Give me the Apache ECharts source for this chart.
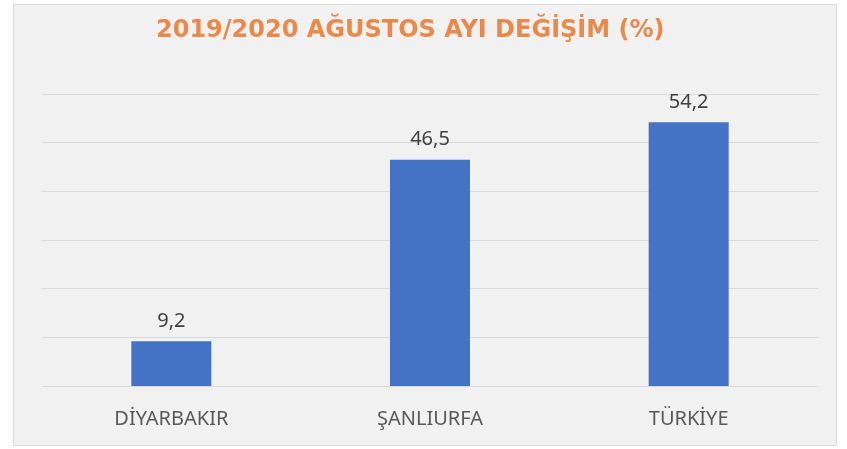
<!DOCTYPE html>
<html>
	<head>
		<meta charset="utf-8">
		<title>Ağustos değişim</title>
		<script src="https://cdn.jsdelivr.net/npm/echarts@6/dist/echarts.min.js"></script>
	</head>
	<body style="margin:0;background:#fff">
		<div id="container" style="width:847px;height:449px;"></div>
		<script type="text/javascript">
			var categories = ['DİYARBAKIR', 'ŞANLIURFA', 'TÜRKİYE'];
			var values = [9.2, 46.5, 54.2];
			var yTicks = [0, 10, 20, 30, 40, 50, 60];

			var myChart = echarts.init(document.getElementById('container'));
			var option = {
				backgroundColor: '#fff',
				graphic: [{
					type: 'rect',
					left: 13, top: 4,
					shape: { width: 823, height: 441 },
					style: { fill: '#f1f1f1', stroke: '#dcdcdc', lineWidth: 1 },
					z: -10
				}],
				title: {
					text: '2019/2020 AĞUSTOS AYI DEĞİŞİM (%)',
					left: 151,
					top: 14,
					textStyle: { color: '#e98a4b', fontSize: 24, fontWeight: 'bold', fontFamily: 'DejaVu Sans' }
				},
				grid: { left: 42, right: 29, top: 94, bottom: 63 },
				xAxis: {
					type: 'category',
					data: categories,
					axisTick: { show: false },
					axisLine: { lineStyle: { color: '#d9d9d9', width: 1 } },
					axisLabel: { color: '#595959', fontSize: 20, margin: 23, fontFamily: 'Noto Sans' }
				},
				yAxis: {
					type: 'value',
					min: yTicks[0],
					max: yTicks[yTicks.length - 1],
					interval: 10,
					axisLabel: { show: false },
					axisLine: { show: false },
					axisTick: { show: false },
					splitLine: { lineStyle: { color: '#d9d9d9', width: 1 } }
				},
				series: [{
					type: 'bar',
					data: values,
					barWidth: 80,
					itemStyle: { color: '#4472c4' },
					label: {
						show: true,
						position: 'top',
						distance: 10,
						color: '#404040',
						fontSize: 20,
						fontFamily: 'Noto Sans',
						formatter: function (p) { return String(p.value).replace('.', ','); }
					}
				}]
			};
			myChart.setOption(option);
		</script>
	</body>
</html>
